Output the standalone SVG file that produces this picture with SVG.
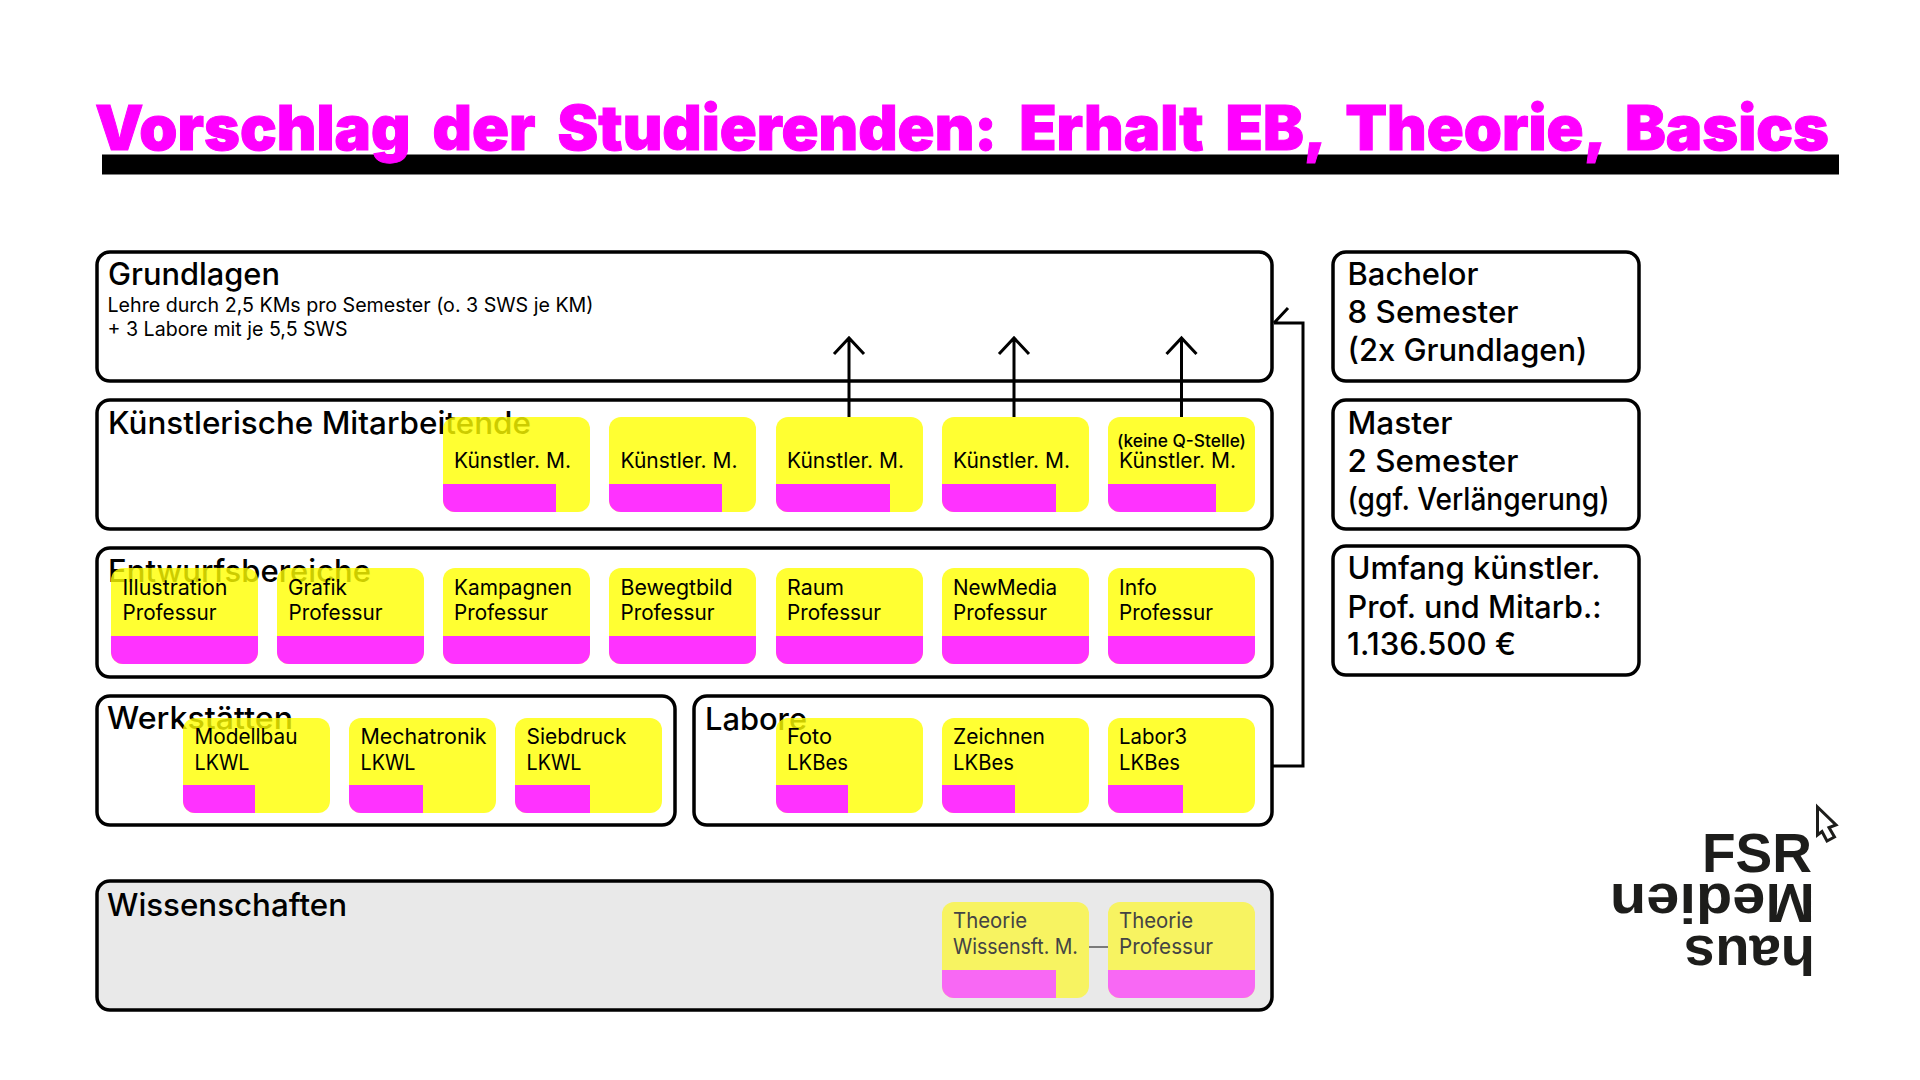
<svg xmlns="http://www.w3.org/2000/svg" width="1920" height="1080" viewBox="0 0 1920 1080">
<style>
text{font-family:Inter,"Liberation Sans",sans-serif;fill:#000}
.box{fill:#fff;stroke:#000;stroke-width:3.5}
.h{font-size:31px;font-weight:500}
.s{font-size:20px;font-weight:400}
.c{font-size:21.5px;font-weight:400}
.y{fill:#ff0}
.m{fill:#f0f}
.card{opacity:.8}
.wy{fill:#f7f361}
.wm{fill:#f868f4}
.wt{fill:#444}
.ln{fill:none;stroke:#000;stroke-width:3}
.logo{font-family:"Liberation Sans",Arial,sans-serif;font-size:55px;font-weight:700;fill:#1d1d1b}
</style>
<rect width="1920" height="1080" fill="#fff"/>
<g id="title">
<rect x="102" y="154.5" width="1737" height="20" fill="#000"/>
<text x="95" y="150" font-size="62" font-weight="900" word-spacing="10" textLength="1734" lengthAdjust="spacingAndGlyphs" style="fill:#f0f;stroke:#f0f;stroke-width:1">Vorschlag der Studierenden: Erhalt EB, Theorie, Basics</text>
</g>
<g id="grundlagen">
<rect class="box" x="97" y="252" width="1175" height="129" rx="13"/>
<text class="h" x="108" y="285" textLength="172" lengthAdjust="spacingAndGlyphs">Grundlagen</text>
<text class="s" x="107.5" y="312" textLength="486" lengthAdjust="spacingAndGlyphs">Lehre durch 2,5 KMs pro Semester (o. 3 SWS je KM)</text>
<text class="s" x="107.5" y="336" textLength="240" lengthAdjust="spacingAndGlyphs">+ 3 Labore mit je 5,5 SWS</text>
</g>
<g id="mitarbeitende">
<rect class="box" x="97" y="400" width="1175" height="129" rx="13"/>
<text class="h" x="108" y="434" textLength="423" lengthAdjust="spacingAndGlyphs">Künstlerische Mitarbeitende</text>
<g id="km1"><g class="card"><rect class="y" x="443" y="417" width="147" height="95" rx="12"/><path class="m" d="M443 484h113v28h-101a12 12 0 0 1-12-12z"/></g><text class="c" x="454" y="468" textLength="117" lengthAdjust="spacingAndGlyphs">Künstler. M.</text></g>
<g id="km2"><g class="card"><rect class="y" x="609" y="417" width="147" height="95" rx="12"/><path class="m" d="M609 484h113v28h-101a12 12 0 0 1-12-12z"/></g><text class="c" x="620.5" y="468" textLength="117" lengthAdjust="spacingAndGlyphs">Künstler. M.</text></g>
<g id="km3"><g class="card"><rect class="y" x="776" y="417" width="147" height="95" rx="12"/><path class="m" d="M776 484h114v28h-102a12 12 0 0 1-12-12z"/></g><text class="c" x="787" y="468" textLength="117" lengthAdjust="spacingAndGlyphs">Künstler. M.</text></g>
<g id="km4"><g class="card"><rect class="y" x="942" y="417" width="147" height="95" rx="12"/><path class="m" d="M942 484h114v28h-102a12 12 0 0 1-12-12z"/></g><text class="c" x="953" y="468" textLength="117" lengthAdjust="spacingAndGlyphs">Künstler. M.</text></g>
<g id="km5"><g class="card"><rect class="y" x="1108" y="417" width="147" height="95" rx="12"/><path class="m" d="M1108 484h108v28h-96a12 12 0 0 1-12-12z"/></g><text x="1117" y="447" font-size="17" font-weight="500" textLength="129" lengthAdjust="spacingAndGlyphs">(keine Q-Stelle)</text><text class="c" x="1119" y="468" textLength="117" lengthAdjust="spacingAndGlyphs">Künstler. M.</text></g>
</g>
<g id="entwurf">
<rect class="box" x="97" y="548" width="1175" height="129" rx="13"/>
<text class="h" x="108" y="581.5" textLength="263" lengthAdjust="spacingAndGlyphs">Entwurfsbereiche</text>
<g id="e1"><g class="card"><rect class="y" x="111" y="568" width="147" height="96" rx="12"/><path class="m" d="M111 636h147v16a12 12 0 0 1-12 12h-123a12 12 0 0 1-12-12z"/></g><text class="c" x="122.5" y="595" textLength="105" lengthAdjust="spacingAndGlyphs">Illustration</text><text class="c" x="122.5" y="620" textLength="94" lengthAdjust="spacingAndGlyphs">Professur</text></g>
<g id="e2"><g class="card"><rect class="y" x="277" y="568" width="147" height="96" rx="12"/><path class="m" d="M277 636h147v16a12 12 0 0 1-12 12h-123a12 12 0 0 1-12-12z"/></g><text class="c" x="288" y="595" textLength="59" lengthAdjust="spacingAndGlyphs">Grafik</text><text class="c" x="288.5" y="620" textLength="94" lengthAdjust="spacingAndGlyphs">Professur</text></g>
<g id="e3"><g class="card"><rect class="y" x="443" y="568" width="147" height="96" rx="12"/><path class="m" d="M443 636h147v16a12 12 0 0 1-12 12h-123a12 12 0 0 1-12-12z"/></g><text class="c" x="454" y="595" textLength="118" lengthAdjust="spacingAndGlyphs">Kampagnen</text><text class="c" x="454" y="620" textLength="94" lengthAdjust="spacingAndGlyphs">Professur</text></g>
<g id="e4"><g class="card"><rect class="y" x="609" y="568" width="147" height="96" rx="12"/><path class="m" d="M609 636h147v16a12 12 0 0 1-12 12h-123a12 12 0 0 1-12-12z"/></g><text class="c" x="620.5" y="595" textLength="112" lengthAdjust="spacingAndGlyphs">Bewegtbild</text><text class="c" x="620.5" y="620" textLength="94" lengthAdjust="spacingAndGlyphs">Professur</text></g>
<g id="e5"><g class="card"><rect class="y" x="776" y="568" width="147" height="96" rx="12"/><path class="m" d="M776 636h147v16a12 12 0 0 1-12 12h-123a12 12 0 0 1-12-12z"/></g><text class="c" x="787" y="595" textLength="57" lengthAdjust="spacingAndGlyphs">Raum</text><text class="c" x="787" y="620" textLength="94" lengthAdjust="spacingAndGlyphs">Professur</text></g>
<g id="e6"><g class="card"><rect class="y" x="942" y="568" width="147" height="96" rx="12"/><path class="m" d="M942 636h147v16a12 12 0 0 1-12 12h-123a12 12 0 0 1-12-12z"/></g><text class="c" x="953" y="595" textLength="104" lengthAdjust="spacingAndGlyphs">NewMedia</text><text class="c" x="953" y="620" textLength="94" lengthAdjust="spacingAndGlyphs">Professur</text></g>
<g id="e7"><g class="card"><rect class="y" x="1108" y="568" width="147" height="96" rx="12"/><path class="m" d="M1108 636h147v16a12 12 0 0 1-12 12h-123a12 12 0 0 1-12-12z"/></g><text class="c" x="1119" y="595" textLength="38" lengthAdjust="spacingAndGlyphs">Info</text><text class="c" x="1119" y="620" textLength="94" lengthAdjust="spacingAndGlyphs">Professur</text></g>
</g>
<g id="werkstaetten">
<rect class="box" x="97" y="696" width="578" height="129" rx="13"/>
<text class="h" x="107" y="728.5" textLength="186" lengthAdjust="spacingAndGlyphs">Werkstätten</text>
<g id="w1"><g class="card"><rect class="y" x="183" y="718" width="147" height="95" rx="12"/><path class="m" d="M183 785h72v28h-60a12 12 0 0 1-12-12z"/></g><text class="c" x="194.5" y="744" textLength="103" lengthAdjust="spacingAndGlyphs">Modellbau</text><text class="c" x="194.5" y="770" textLength="55" lengthAdjust="spacingAndGlyphs">LKWL</text></g>
<g id="w2"><g class="card"><rect class="y" x="349" y="718" width="147" height="95" rx="12"/><path class="m" d="M349 785h74v28h-62a12 12 0 0 1-12-12z"/></g><text class="c" x="360.5" y="744" textLength="126" lengthAdjust="spacingAndGlyphs">Mechatronik</text><text class="c" x="360.5" y="770" textLength="55" lengthAdjust="spacingAndGlyphs">LKWL</text></g>
<g id="w3"><g class="card"><rect class="y" x="515" y="718" width="147" height="95" rx="12"/><path class="m" d="M515 785h75v28h-63a12 12 0 0 1-12-12z"/></g><text class="c" x="526.5" y="744" textLength="100" lengthAdjust="spacingAndGlyphs">Siebdruck</text><text class="c" x="526.5" y="770" textLength="55" lengthAdjust="spacingAndGlyphs">LKWL</text></g>
</g>
<g id="labore">
<rect class="box" x="694" y="696" width="578" height="129" rx="13"/>
<text class="h" x="705" y="729.5" textLength="102" lengthAdjust="spacingAndGlyphs">Labore</text>
<g id="l1"><g class="card"><rect class="y" x="776" y="718" width="147" height="95" rx="12"/><path class="m" d="M776 785h72v28h-60a12 12 0 0 1-12-12z"/></g><text class="c" x="787" y="744" textLength="45" lengthAdjust="spacingAndGlyphs">Foto</text><text class="c" x="787" y="770" textLength="61" lengthAdjust="spacingAndGlyphs">LKBes</text></g>
<g id="l2"><g class="card"><rect class="y" x="942" y="718" width="147" height="95" rx="12"/><path class="m" d="M942 785h73v28h-61a12 12 0 0 1-12-12z"/></g><text class="c" x="953" y="744" textLength="92" lengthAdjust="spacingAndGlyphs">Zeichnen</text><text class="c" x="953" y="770" textLength="61" lengthAdjust="spacingAndGlyphs">LKBes</text></g>
<g id="l3"><g class="card"><rect class="y" x="1108" y="718" width="147" height="95" rx="12"/><path class="m" d="M1108 785h75v28h-63a12 12 0 0 1-12-12z"/></g><text class="c" x="1119" y="744" textLength="68" lengthAdjust="spacingAndGlyphs">Labor3</text><text class="c" x="1119" y="770" textLength="61" lengthAdjust="spacingAndGlyphs">LKBes</text></g>
</g>
<g id="wissenschaften">
<rect class="box" x="97" y="881" width="1175" height="129" rx="13" style="fill:#e9e9e9"/>
<text class="h" x="107" y="916" textLength="240" lengthAdjust="spacingAndGlyphs">Wissenschaften</text>
<g id="t1"><rect class="wy" x="942" y="902" width="147" height="96" rx="12"/><path class="wm" d="M942 970h114v28h-102a12 12 0 0 1-12-12z"/><text class="c wt" x="953" y="928" textLength="74" lengthAdjust="spacingAndGlyphs">Theorie</text><text class="c wt" x="953" y="954" textLength="125" lengthAdjust="spacingAndGlyphs">Wissensft. M.</text></g>
<g id="t2"><rect class="wy" x="1108" y="902" width="147" height="96" rx="12"/><path class="wm" d="M1108 970h147v16a12 12 0 0 1-12 12h-123a12 12 0 0 1-12-12z"/><text class="c wt" x="1119" y="928" textLength="74" lengthAdjust="spacingAndGlyphs">Theorie</text><text class="c wt" x="1119" y="954" textLength="94" lengthAdjust="spacingAndGlyphs">Professur</text></g>
</g>
<g id="bachelor">
<rect class="box" x="1333" y="252" width="306" height="129" rx="13"/>
<text class="h" x="1347.5" y="285" textLength="131" lengthAdjust="spacingAndGlyphs">Bachelor</text>
<text class="h" x="1347.5" y="323" textLength="171" lengthAdjust="spacingAndGlyphs">8 Semester</text>
<text class="h" x="1347.5" y="361" textLength="240" lengthAdjust="spacingAndGlyphs">(2x Grundlagen)</text>
</g>
<g id="master">
<rect class="box" x="1333" y="400" width="306" height="129" rx="13"/>
<text class="h" x="1347.5" y="434" textLength="105" lengthAdjust="spacingAndGlyphs">Master</text>
<text class="h" x="1347.5" y="472" textLength="171" lengthAdjust="spacingAndGlyphs">2 Semester</text>
<text class="h" x="1347.5" y="510" textLength="262" lengthAdjust="spacingAndGlyphs">(ggf. Verlängerung)</text>
</g>
<g id="umfang">
<rect class="box" x="1333" y="546" width="306" height="129" rx="13"/>
<text class="h" x="1347.5" y="579" textLength="253" lengthAdjust="spacingAndGlyphs">Umfang künstler.</text>
<text class="h" x="1347.5" y="618" textLength="254" lengthAdjust="spacingAndGlyphs">Prof. und Mitarb.:</text>
<text class="h" x="1347" y="655" textLength="169" lengthAdjust="spacingAndGlyphs">1.136.500 €</text>
</g>
<g id="connectors">
<path class="ln" d="M849 417V338M834 354L849 338L864 354"/>
<path class="ln" d="M1014 417V338M999 354L1014 338L1029 354"/>
<path class="ln" d="M1181.500 417V338M1166.500 354L1181.500 338L1196.500 354"/>
<path class="ln" d="M1272 766H1303V323H1274M1274 323L1288 308"/>
<path d="M1089 947H1108" fill="none" stroke="#555" stroke-width="1.5"/>
</g>
<g id="logo">
<text class="logo" x="1702" y="872" textLength="110" lengthAdjust="spacingAndGlyphs">FSR</text>
<text class="logo" transform="translate(1815 884) rotate(180)" textLength="205" lengthAdjust="spacingAndGlyphs">Medien</text>
<text class="logo" transform="translate(1815 936) rotate(180)" textLength="131" lengthAdjust="spacingAndGlyphs">haus</text>
<path d="M1817.500 807L1836 825L1829 827.500L1834.500 837L1827 841L1822 831.500L1817.500 835Z" fill="#fff" stroke="#1d1d1b" stroke-width="3"/>
</g>
</svg>
